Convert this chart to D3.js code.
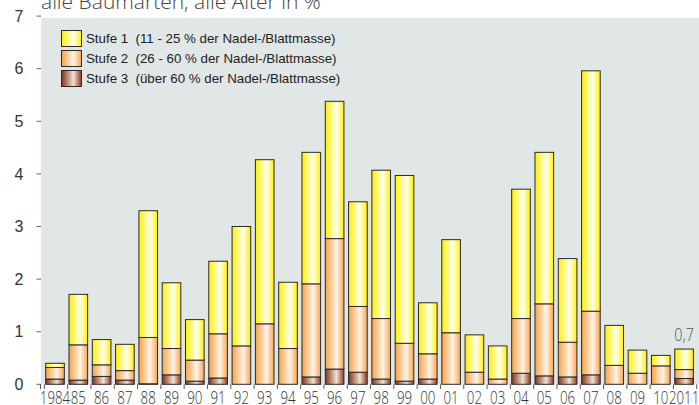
<!DOCTYPE html>
<html lang="de">
<head>
<meta charset="utf-8">
<title>Nadel-/Blattverlust</title>
<style>
  body { margin: 0; background: white; }
  .ylab { font: 16px "Liberation Sans", Arial, sans-serif; fill: #333; }
  .xlab { font: 300 17.5px "Open Sans", sans-serif; fill: #333; }
  .legend text { font: 13.3px "Liberation Sans", Arial, sans-serif; fill: #222; }
</style>
</head>
<body>
<script src="https://d3js.org/d3.v7.min.js"></script>
<svg width="699" height="405"></svg>
<script>
// years shown on the x axis
var years = ["1984","85","86","87","88","89","90","91","92","93","94","95","96","97",
             "98","99","00","01","02","03","04","05","06","07","08","09","10","2011"];

// segment values (percent of trees)
var stufe3 = [0.10,0.08,0.15,0.08,0.01,0.18,0.06,0.12,0,0,0,0.14,0.29,0.23,
              0.10,0.06,0.10,0,0,0,0.21,0.16,0.14,0.18,0,0,0,0.11];
var stufe2 = [0.22,0.67,0.22,0.18,0.88,0.50,0.40,0.84,0.73,1.15,0.68,1.77,2.48,1.25,
              1.15,0.72,0.48,0.98,0.23,0.10,1.04,1.37,0.66,1.21,0.36,0.21,0.35,0.17];
var stufe1 = [0.08,0.96,0.48,0.50,2.41,1.25,0.77,1.38,2.27,3.12,1.26,2.50,2.61,1.99,
              2.82,3.19,0.97,1.77,0.71,0.63,2.46,2.88,1.59,4.57,0.76,0.44,0.20,0.39];

var yTicks = [0,1,2,3,4,5,6,7];
var legendLabels = ["Stufe 1  (11 - 25 % der Nadel-/Blattmasse)",
                    "Stufe 2  (26 - 60 % der Nadel-/Blattmasse)",
                    "Stufe 3  (über 60 % der Nadel-/Blattmasse)"];

var svg = d3.select("svg");

// gradients: saturated edges, pale centre
var grads = {
  s1: ["#ffef00", "#fffff2", "#fff100"],
  s2: ["#f7a245", "#fff3e6", "#f8a650"],
  s3: ["#7c3418", "#f4e0d4", "#8a3c1e"]
};
var defs = svg.append("defs");
Object.keys(grads).forEach(function(k) {
  var g = defs.append("linearGradient").attr("id", "g" + k)
    .attr("x1", 0).attr("x2", 1).attr("y1", 0).attr("y2", 0);
  g.append("stop").attr("offset", "0%").attr("stop-color", grads[k][0]);
  g.append("stop").attr("offset", "60%").attr("stop-color", grads[k][1]);
  g.append("stop").attr("offset", "100%").attr("stop-color", grads[k][2]);
});

var plot = { left: 41, top: 18, right: 699, bottom: 384.3 };

var x = d3.scaleBand().domain(years)
  .range([43.35, 695.75]).paddingInner(0.2).paddingOuter(0.1);
var y = d3.scaleLinear().domain([0, 7]).range([384.3, 16.1]);

// plot background
svg.append("rect")
  .attr("x", plot.left).attr("y", plot.top)
  .attr("width", plot.right - plot.left).attr("height", plot.bottom - plot.top)
  .attr("fill", "#e1e6e6");

// title (cut off at top)
svg.append("text")
  .attr("x", 41).attr("y", 9)
  .style("font", "300 21px 'Open Sans', sans-serif")
  .attr("fill", "#444")
  .text("alle Baumarten, alle Alter in %");

// y axis: tick marks and labels only
svg.append("g").selectAll("line").data(yTicks).enter().append("line")
  .attr("x1", 36.5).attr("x2", 41)
  .attr("y1", function(d) { return y(d); }).attr("y2", function(d) { return y(d); })
  .attr("stroke", "#666").attr("stroke-width", 1);
svg.append("g").selectAll("text").data(yTicks).enter().append("text")
  .attr("class", "ylab")
  .attr("x", 19).attr("y", function(d) { return y(d); })
  .attr("dy", "0.36em").attr("text-anchor", "middle")
  .text(function(d) { return d; });

// x axis ticks between the bars
var step = x.step();
var bounds = years.map(function(d) { return x(d) - step * 0.1 + 1; });
bounds.push(x(years[years.length - 1]) + x.bandwidth() + step * 0.1 + 1);
svg.append("g").selectAll("line").data(bounds).enter().append("line")
  .attr("x1", function(d) { return d; }).attr("x2", function(d) { return d; })
  .attr("y1", 384.3).attr("y2", 389)
  .attr("stroke", "#555").attr("stroke-width", 1);
svg.append("line").attr("x1", 40.5).attr("x2", 40.5).attr("y1", 384).attr("y2", 389)
  .attr("stroke", "#555");

// x labels (condensed)
svg.append("g").selectAll("text").data(years).enter().append("text")
  .attr("class", "xlab")
  .attr("text-anchor", "middle")
  .attr("transform", function(d) {
    return "translate(" + (x(d) + x.bandwidth() / 2) + ",404) scale(0.76,1)";
  })
  .text(function(d) { return d; });

// stacked bars
var rows = years.map(function(d, i) {
  return { year: d, s3: stufe3[i], s2: stufe2[i], s1: stufe1[i] };
});
var stack = d3.stack().keys(["s3", "s2", "s1"]);
var series = stack(rows);

svg.append("g").selectAll("g").data(series).enter().append("g")
  .attr("fill", function(s) { return "url(#g" + s.key + ")"; })
  .selectAll("rect").data(function(s) { return s; }).enter().append("rect")
  .filter(function(d) { return d[1] - d[0] > 0.005; })
  .attr("x", function(d) { return x(d.data.year); })
  .attr("width", x.bandwidth())
  .attr("y", function(d) { return y(d[1]); })
  .attr("height", function(d) { return y(d[0]) - y(d[1]); })
  .attr("stroke", "#2a2a2a").attr("stroke-width", 1);

// value label on the last bar
var last = rows[rows.length - 1];
svg.append("text")
  .attr("text-anchor", "middle")
  .attr("transform", "translate(" + (x(last.year) + x.bandwidth() / 2) + "," +
        (y(last.s1 + last.s2 + last.s3) - 8) + ") scale(0.8,1)")
  .style("font", "300 18px 'Open Sans', sans-serif")
  .attr("fill", "#555")
  .text("0,7");

// legend
var legend = svg.append("g").attr("class", "legend");
var keys = ["s1", "s2", "s3"];
keys.forEach(function(k, i) {
  var gy = 30 + i * 20;
  legend.append("rect")
    .attr("x", 61.5).attr("y", gy + 0.5).attr("width", 20).attr("height", 16)
    .attr("fill", "url(#g" + k + ")").attr("stroke", "#2a2a2a");
  legend.append("text")
    .attr("x", 86).attr("y", gy + 13)
    .attr("xml:space", "preserve")
    .text(legendLabels[i]);
});
</script>
</body>
</html>
